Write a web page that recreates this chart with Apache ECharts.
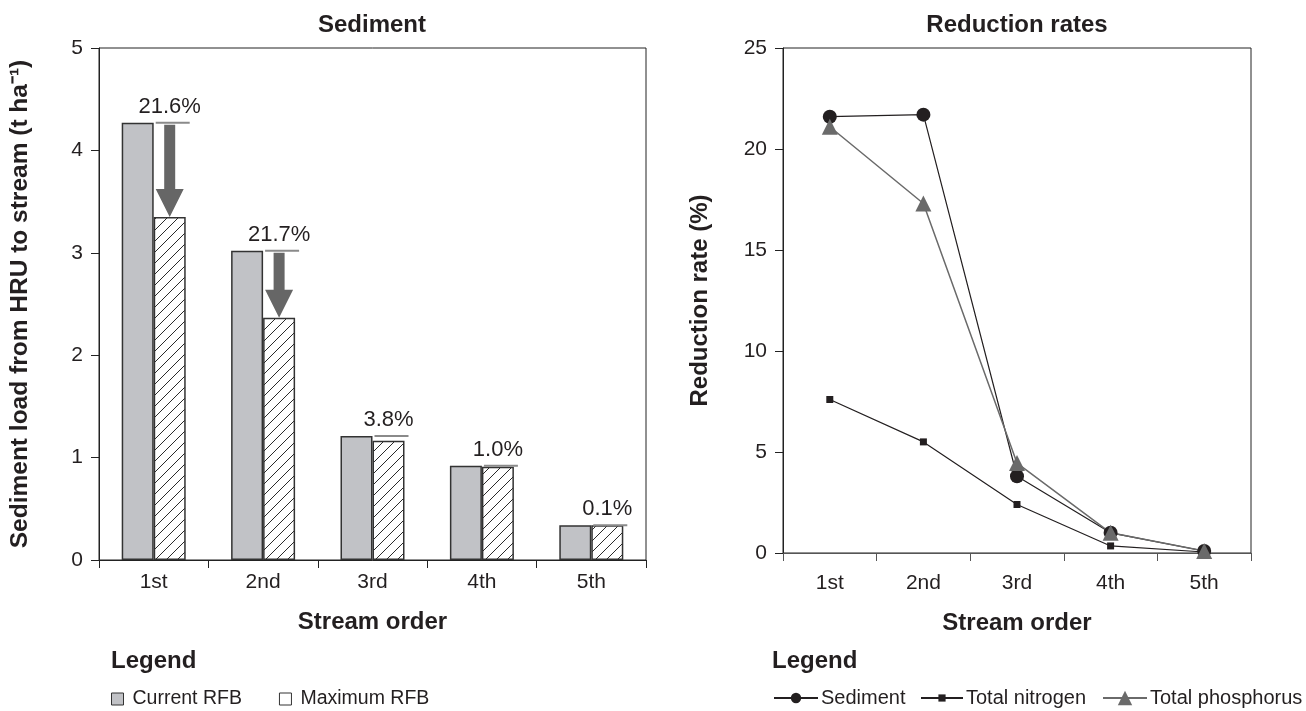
<!DOCTYPE html>
<html>
<head>
<meta charset="utf-8">
<script src="https://cdn.jsdelivr.net/npm/echarts@6/dist/echarts.min.js"></script>
<style>
  html, body { margin: 0; padding: 0; background: #fff; }
  #chart { width: 1306px; height: 711px; }
</style>
</head>
<body>
<div id="chart"></div>
<script>
// Stream orders shared by both panels
const streamOrders = ['1st', '2nd', '3rd', '4th', '5th'];

// Sediment load from HRU to stream (t/ha)
const currentRFB = [4.27, 3.02, 1.21, 0.92, 0.34];
const maximumRFB = [3.35, 2.365, 1.164, 0.911, 0.34];
const sedimentDropLabels = ['21.6%', '21.7%', '3.8%', '1.0%', '0.1%'];

// Reduction rates (%)
const sedimentRate = [21.6, 21.7, 3.8, 1.0, 0.1];
const nitrogenRate = [7.6, 5.5, 2.4, 0.35, 0.05];
const phosphorusRate = [21.1, 17.3, 4.45, 1.0, 0.1];

const leftTicks = [0, 1, 2, 3, 4, 5];
const rightTicks = [0, 5, 10, 15, 20, 25];

const FONT = '"Liberation Sans", Arial, sans-serif';
const INK = '#231f20';
const BAR_W = 32;

// diagonal hatch fill for the maximum-RFB bars
function hatchPattern() {
  const s = 11;
  const c = document.createElement('canvas');
  c.width = s; c.height = s;
  const g = c.getContext('2d');
  g.fillStyle = '#fff';
  g.fillRect(0, 0, s, s);
  g.strokeStyle = '#2a2a2a';
  g.lineWidth = 1;
  g.beginPath();
  g.moveTo(-1, s + 1); g.lineTo(s + 1, -1);
  g.moveTo(-1, 1); g.lineTo(1, -1);
  g.moveTo(s - 1, s + 1); g.lineTo(s + 1, s - 1);
  g.stroke();
  return c;
}

const dropData = streamOrders.map((s, i) => [i, currentRFB[i], maximumRFB[i], sedimentDropLabels[i]]);

// reference line at the current level, arrow down to the maximum-RFB bar, and percentage text
function renderDrop(params, api) {
  const top = api.coord([api.value(0), api.value(1)]);
  const low = api.coord([api.value(0), api.value(2)]);
  const cx = top[0];
  const children = [];
  const xMid = cx + BAR_W / 2;
  children.push({
    type: 'line',
    shape: { x1: cx + 2, y1: top[1], x2: cx + BAR_W + 4, y2: top[1] },
    style: { stroke: '#8a8a8a', lineWidth: 2 }
  });
  const gap = low[1] - top[1];
  if (gap > 40) {
    const headH = 28, headW = 28, shaftW = 11;
    const y0 = top[1] + 2, yh = low[1] - headH;
    children.push({
      type: 'polygon',
      shape: {
        points: [
          [xMid - shaftW / 2, y0], [xMid + shaftW / 2, y0],
          [xMid + shaftW / 2, yh], [xMid + headW / 2, yh],
          [xMid, low[1]], [xMid - headW / 2, yh],
          [xMid - shaftW / 2, yh]
        ]
      },
      style: { fill: '#666666' }
    });
  }
  children.push({
    type: 'text',
    style: {
      x: xMid, y: top[1] - 5,
      text: api.value(3),
      font: '22px ' + FONT,
      fill: INK,
      align: 'center',
      verticalAlign: 'bottom'
    }
  });
  return { type: 'group', children: children };
}

const chart = echarts.init(document.getElementById('chart'), null, { renderer: 'canvas' });

const axisNameStyle = { fontFamily: FONT, fontWeight: 'bold', color: INK };
const headStyle = { fontFamily: FONT, fontWeight: 'bold', fontSize: 24, color: INK };
const legendText = { fontFamily: FONT, fontSize: 20, color: INK };

// one legend block per line series so each icon keeps its own marker size
function lineLegend(name, left, w, h) {
  return {
    left: left, top: 688, padding: 0,
    itemWidth: w, itemHeight: h,
    textStyle: Object.assign({ padding: [0, 0, 0, -2] }, legendText),
    data: [name]
  };
}

chart.setOption({
  animation: false,
  backgroundColor: '#fff',
  textStyle: { fontFamily: FONT, color: INK },
  title: [
    { text: 'Sediment', left: 372, top: 13, padding: 0, textAlign: 'center', textStyle: headStyle },
    { text: 'Reduction rates', left: 1017, top: 13, padding: 0, textAlign: 'center', textStyle: headStyle },
    { text: 'Legend', left: 111, top: 649, padding: 0, textStyle: headStyle },
    { text: 'Legend', left: 772, top: 649, padding: 0, textStyle: headStyle }
  ],
  legend: [
    {
      left: 111, top: 689, padding: 0,
      icon: 'rect', itemWidth: 12, itemHeight: 12, itemGap: 37,
      textStyle: { fontFamily: FONT, color: INK, fontSize: 19.5, padding: [0, 0, 0, 4] },
      data: [
        { name: 'Current RFB', itemStyle: { color: '#c1c2c6', borderColor: '#333', borderWidth: 1 } },
        { name: 'Maximum RFB', itemStyle: { color: '#fff', borderColor: '#333', borderWidth: 1 } }
      ]
    },
    lineLegend('Sediment', 773, 44, 13),
    lineLegend('Total nitrogen', 920, 42, 9),
    lineLegend('Total phosphorus', 1102, 44, 18)
  ],
  grid: [
    { left: 99, top: 48, width: 547, height: 512, show: true, borderColor: '#222', borderWidth: 1 },
    { left: 783, top: 48, width: 468, height: 505, show: true, borderColor: '#222', borderWidth: 1 }
  ],
  xAxis: [
    {
      gridIndex: 0, type: 'category', data: streamOrders,
      name: 'Stream order', nameLocation: 'middle', nameGap: 50,
      nameTextStyle: Object.assign({ fontSize: 24 }, axisNameStyle),
      axisLine: { lineStyle: { color: '#222', width: 1 } },
      axisTick: { show: true, length: 8, lineStyle: { color: '#222' } },
      axisLabel: { fontFamily: FONT, fontSize: 21, color: INK, margin: 12 }
    },
    {
      gridIndex: 1, type: 'category', data: streamOrders,
      name: 'Stream order', nameLocation: 'middle', nameGap: 58,
      nameTextStyle: Object.assign({ fontSize: 24 }, axisNameStyle),
      axisLine: { lineStyle: { color: '#555', width: 1 } },
      axisTick: { show: true, length: 8, lineStyle: { color: '#555' } },
      axisLabel: { fontFamily: FONT, fontSize: 21, color: INK, margin: 20 }
    }
  ],
  yAxis: [
    {
      gridIndex: 0, type: 'value', min: leftTicks[0], max: leftTicks[leftTicks.length - 1], interval: 1,
      name: 'Sediment load from HRU to stream (t ha\u207B\u00B9)', nameLocation: 'middle', nameGap: 66,
      nameTextStyle: Object.assign({ fontSize: 24.5 }, axisNameStyle),
      axisLine: { show: true, lineStyle: { color: '#222' } },
      axisTick: { show: true, length: 8, lineStyle: { color: '#222' } },
      axisLabel: { fontFamily: FONT, fontSize: 21, color: INK, margin: 16 },
      splitLine: { show: false }
    },
    {
      gridIndex: 1, type: 'value', min: rightTicks[0], max: rightTicks[rightTicks.length - 1], interval: 5,
      name: 'Reduction rate (%)', nameLocation: 'middle', nameGap: 71,
      nameTextStyle: Object.assign({ fontSize: 24 }, axisNameStyle),
      axisLine: { show: true, lineStyle: { color: '#222' } },
      axisTick: { show: true, length: 8, lineStyle: { color: '#222' } },
      axisLabel: { fontFamily: FONT, fontSize: 21, color: INK, margin: 16 },
      splitLine: { show: false }
    }
  ],
  series: [
    {
      name: 'Current RFB', type: 'bar', xAxisIndex: 0, yAxisIndex: 0,
      data: currentRFB, barWidth: BAR_W, barGap: '0%',
      itemStyle: { color: '#c1c2c6', borderColor: '#333', borderWidth: 1.5 }
    },
    {
      name: 'Maximum RFB', type: 'bar', xAxisIndex: 0, yAxisIndex: 0,
      data: maximumRFB, barWidth: BAR_W,
      itemStyle: { color: { image: hatchPattern(), repeat: 'repeat' }, borderColor: '#333', borderWidth: 1.5 }
    },
    {
      name: 'drop', type: 'custom', xAxisIndex: 0, yAxisIndex: 0,
      data: dropData, renderItem: renderDrop, z: 5,
      encode: { x: 0, y: 1 }
    },
    {
      name: 'Sediment', type: 'line', xAxisIndex: 1, yAxisIndex: 1,
      data: sedimentRate, symbol: 'circle', symbolSize: 14,
      lineStyle: { color: '#231f20', width: 1.2 },
      itemStyle: { color: '#231f20' }
    },
    {
      name: 'Total nitrogen', type: 'line', xAxisIndex: 1, yAxisIndex: 1,
      data: nitrogenRate, symbol: 'rect', symbolSize: 7,
      lineStyle: { color: '#231f20', width: 1.2 },
      itemStyle: { color: '#231f20' }
    },
    {
      name: 'Total phosphorus', type: 'line', xAxisIndex: 1, yAxisIndex: 1,
      data: phosphorusRate, symbol: 'triangle', symbolSize: 16,
      lineStyle: { color: '#6a6a6a', width: 1.5 },
      itemStyle: { color: '#6a6a6a' }
    }
  ]
});
</script>
</body>
</html>
